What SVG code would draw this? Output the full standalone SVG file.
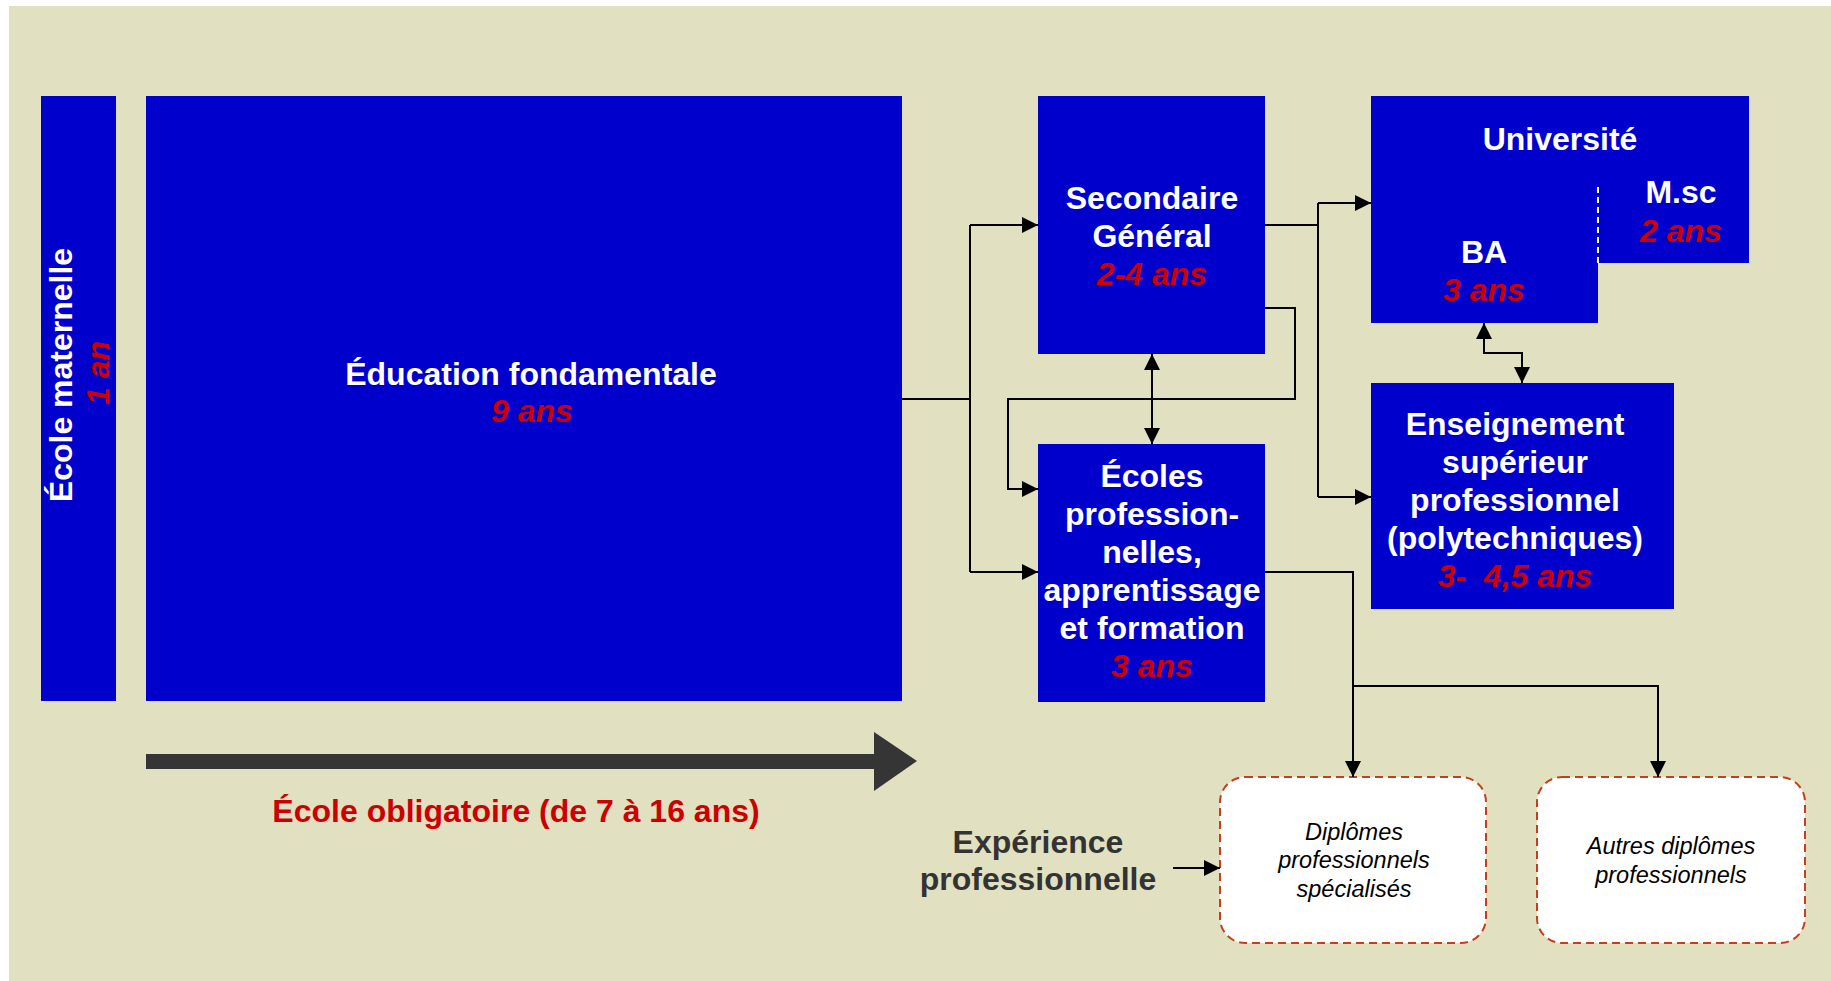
<svg xmlns="http://www.w3.org/2000/svg" width="1831" height="981" viewBox="0 0 1831 981">
  <style>
    .box { fill: #0000CC; }
    .t { font-family: "Liberation Sans", Arial, sans-serif; font-weight: bold; font-size: 32px; fill: #FFFFFF; text-anchor: middle; }
    .yr { font-family: "Liberation Sans", Arial, sans-serif; font-weight: bold; font-style: italic; font-size: 32px; fill: #CC0000; text-anchor: middle; }
    .dip { fill: #FFFFFF; stroke: #C3401E; stroke-width: 2; stroke-dasharray: 8 5; }
    .it { font-family: "Liberation Sans", Arial, sans-serif; font-style: italic; font-size: 23.5px; fill: #000000; text-anchor: middle; }
    .lnk { fill: none; stroke: #000000; stroke-width: 2; }
    .lbl { font-family: "Liberation Sans", Arial, sans-serif; font-weight: bold; font-size: 32px; text-anchor: middle; }
  </style>
  <defs>
    <marker id="ah" viewBox="0 0 10 10" refX="10" refY="5" markerWidth="16" markerHeight="16" markerUnits="userSpaceOnUse" orient="auto-start-reverse">
      <path d="M0,0 L10,5 L0,10 Z" fill="#000000"/>
    </marker>
  </defs>

  <!-- page background -->
  <rect x="9" y="6" width="1822" height="975" fill="#E1E0C0"/>

  <!-- pre-school column -->
  <g id="ecole-maternelle">
    <rect class="box" x="41" y="96" width="75" height="605"/>
    <text class="t" transform="translate(72,375) rotate(-90)" x="0" y="0">École maternelle</text>
    <text class="yr" transform="translate(109,373) rotate(-90)" x="0" y="0">1 an</text>
  </g>

  <!-- basic education -->
  <g id="education-fondamentale">
    <rect class="box" x="146" y="96" width="756" height="605"/>
    <text class="t" x="531" y="385">Éducation fondamentale</text>
    <text class="yr" x="532" y="422">9 ans</text>
  </g>

  <!-- general secondary -->
  <g id="secondaire-general">
    <rect class="box" x="1038" y="96" width="227" height="258"/>
    <text class="t" x="1152" y="209">Secondaire</text>
    <text class="t" x="1152" y="247">Général</text>
    <text class="yr" x="1152" y="285">2-4 ans</text>
  </g>

  <!-- vocational schools -->
  <g id="ecoles-professionnelles">
    <rect class="box" x="1038" y="444" width="227" height="258"/>
    <text class="t" x="1152" y="487">Écoles</text>
    <text class="t" x="1152" y="525">profession-</text>
    <text class="t" x="1152" y="563">nelles,</text>
    <text class="t" x="1152" y="601">apprentissage</text>
    <text class="t" x="1152" y="639">et formation</text>
    <text class="yr" x="1152" y="677">3 ans</text>
  </g>

  <!-- university: BA + M.sc -->
  <g id="universite">
    <path class="box" d="M1371,96 H1749 V263 H1598 V323 H1371 Z"/>
    <line x1="1598" y1="187" x2="1598" y2="263" stroke="#FFFFFF" stroke-width="2" stroke-dasharray="6 4"/>
    <text class="t" x="1560" y="150">Université</text>
    <text class="t" x="1681" y="203">M.sc</text>
    <text class="yr" x="1681" y="242">2 ans</text>
    <text class="t" x="1484" y="263">BA</text>
    <text class="yr" x="1484" y="301">3 ans</text>
  </g>

  <!-- higher professional education -->
  <g id="enseignement-superieur">
    <rect class="box" x="1371" y="383" width="303" height="226"/>
    <text class="t" x="1515" y="435">Enseignement</text>
    <text class="t" x="1515" y="473">supérieur</text>
    <text class="t" x="1515" y="511">professionnel</text>
    <text class="t" x="1515" y="549">(polytechniques)</text>
    <text class="yr" x="1515" y="587" xml:space="preserve">3-  4,5 ans</text>
  </g>

  <!-- specialised diplomas -->
  <g id="diplomes-specialises">
    <rect class="dip" x="1220" y="777" width="266" height="166" rx="25" ry="25"/>
    <text class="it" x="1354" y="840">Diplômes</text>
    <text class="it" x="1354" y="868">professionnels</text>
    <text class="it" x="1354" y="897">spécialisés</text>
  </g>

  <!-- other diplomas -->
  <g id="autres-diplomes">
    <rect class="dip" x="1537" y="777" width="268" height="166" rx="25" ry="25"/>
    <text class="it" x="1671" y="854">Autres diplômes</text>
    <text class="it" x="1671" y="883">professionnels</text>
  </g>

  <!-- work experience label -->
  <g id="experience-professionnelle">
    <text class="lbl" x="1038" y="853" fill="#333333">Expérience</text>
    <text class="lbl" x="1038" y="890" fill="#333333">professionnelle</text>
  </g>

  <!-- compulsory schooling arrow -->
  <g id="ecole-obligatoire">
    <path d="M146,754 H874 V732 L917,761 L874,791 V769 H146 Z" fill="#353535"/>
    <text class="lbl" x="516" y="822" fill="#CC0000">École obligatoire (de 7 à 16 ans)</text>
  </g>

  <!-- connectors -->
  <g id="connectors">
    <!-- basic education to secondary / vocational -->
    <path class="lnk" d="M902,399 H970"/>
    <path class="lnk" d="M970,225 V572"/>
    <path class="lnk" d="M970,225 H1038" marker-end="url(#ah)"/>
    <path class="lnk" d="M970,572 H1038" marker-end="url(#ah)"/>
    <!-- secondary back into vocational -->
    <path class="lnk" d="M1265,308 H1295 V399 H1008 V489 H1038" marker-end="url(#ah)"/>
    <!-- secondary <-> vocational -->
    <path class="lnk" d="M1152,354 V444" marker-start="url(#ah)" marker-end="url(#ah)"/>
    <!-- secondary to university / polytechnics -->
    <path class="lnk" d="M1265,225 H1318"/>
    <path class="lnk" d="M1318,203 V497"/>
    <path class="lnk" d="M1318,203 H1371" marker-end="url(#ah)"/>
    <path class="lnk" d="M1318,497 H1371" marker-end="url(#ah)"/>
    <!-- BA <-> polytechnics -->
    <path class="lnk" d="M1484,323 V353 H1522 V383" marker-start="url(#ah)" marker-end="url(#ah)"/>
    <!-- vocational to diplomas -->
    <path class="lnk" d="M1265,572 H1353 V777" marker-end="url(#ah)"/>
    <path class="lnk" d="M1353,686 H1658 V777" marker-end="url(#ah)"/>
    <!-- work experience to specialised diplomas -->
    <path class="lnk" d="M1173,868 H1220" marker-end="url(#ah)"/>
  </g>
</svg>
